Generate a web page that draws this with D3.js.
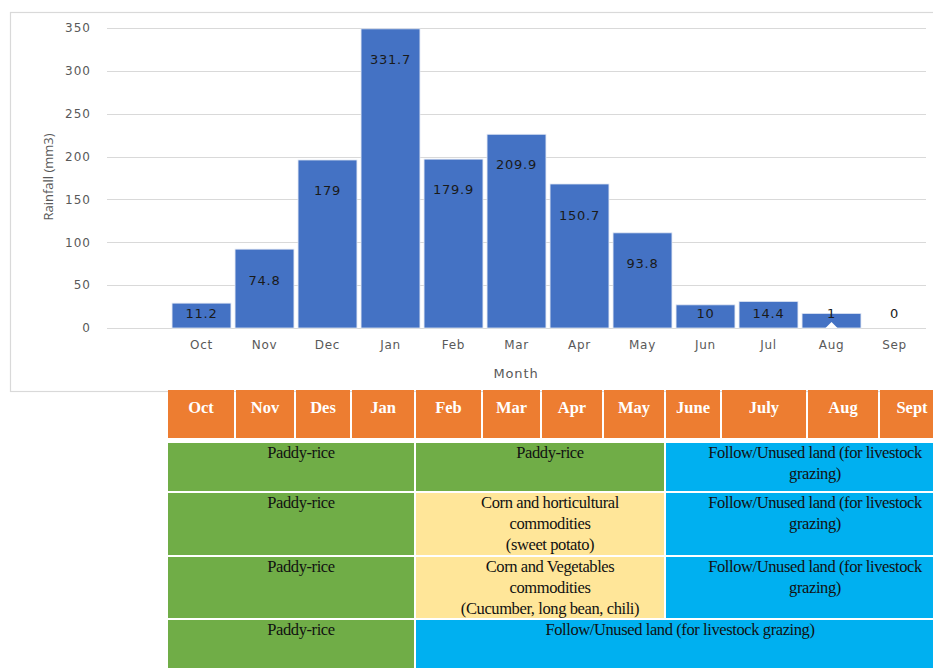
<!DOCTYPE html>
<html>
<head>
<meta charset="utf-8">
<script src="https://cdn.jsdelivr.net/npm/d3@7"></script>
<style>
  body { margin: 0; background: #fff; }
  svg { display: block; }
</style>
</head>
<body>
<script>
// chart values
var months = ["Oct", "Nov", "Dec", "Jan", "Feb", "Mar", "Apr", "May", "Jun", "Jul", "Aug", "Sep"];
var barValues = [29, 92, 196, 349, 197, 226, 168, 111, 27, 31, 17, 0];
var labelValues = [11.2, 74.8, 179, 331.7, 179.9, 209.9, 150.7, 93.8, 10, 14.4, 1, 0];
var yTicks = [0, 50, 100, 150, 200, 250, 300, 350];

// cropping calendar table
var tableHeaders = ["Oct", "Nov", "Des", "Jan", "Feb", "Mar", "Apr", "May", "June", "July", "Aug", "Sept"];
var tableRows = [
  [ {from: 0, to: 4, kind: "rice", lines: ["Paddy-rice"]},
    {from: 4, to: 8, kind: "rice", lines: ["Paddy-rice"]},
    {from: 8, to: 12, kind: "fallow", lines: ["Follow/Unused land (for livestock", "grazing)"]} ],
  [ {from: 0, to: 4, kind: "rice", lines: ["Paddy-rice"]},
    {from: 4, to: 8, kind: "crop", lines: ["Corn and horticultural", "commodities", "(sweet potato)"]},
    {from: 8, to: 12, kind: "fallow", lines: ["Follow/Unused land (for livestock", "grazing)"]} ],
  [ {from: 0, to: 4, kind: "rice", lines: ["Paddy-rice"]},
    {from: 4, to: 8, kind: "crop", lines: ["Corn and Vegetables", "commodities", "(Cucumber, long bean, chili)"]},
    {from: 8, to: 12, kind: "fallow", lines: ["Follow/Unused land (for livestock", "grazing)"]} ],
  [ {from: 0, to: 4, kind: "rice", lines: ["Paddy-rice"]},
    {from: 4, to: 12, kind: "fallow", lines: ["Follow/Unused land (for livestock grazing)"]} ]
];

// layout
var W = 933, H = 668;
var colEdges = [167, 235, 295, 351, 415, 482, 541, 603, 665, 721, 807, 879, 945];
var rowEdges = [[443, 491], [493, 555], [557, 618], [620, 680]];
var cellFill = {rice: "#70AD47", crop: "#FFE699", fallow: "#00B0F0"};

// text sits a little right of centre in the 4-month cells
function textDx(d) { return (d.to - d.from) > 4 ? 0 : 10; }

var svg = d3.select("body").append("svg").attr("width", W).attr("height", H);

// chart frame
svg.append("rect")
  .attr("x", 10.5).attr("y", 12.5)
  .attr("width", 940).attr("height", 379)
  .attr("fill", "#fff").attr("stroke", "#d9d9d9").attr("stroke-width", 1.2);

var x = d3.scaleBand()
  .domain([""].concat(months))
  .range([107, 926])
  .paddingInner(0.065)
  .paddingOuter(0.0325);

var y = d3.scaleLinear().domain([0, 350]).range([328, 28]);

// gridlines
svg.append("g").selectAll("line")
  .data(yTicks)
  .enter().append("line")
  .attr("x1", 107).attr("x2", 926)
  .attr("y1", function(d) { return Math.round(y(d)) + 0.5; })
  .attr("y2", function(d) { return Math.round(y(d)) + 0.5; })
  .attr("stroke", "#d9d9d9").attr("stroke-width", 1.2);

// y tick labels
svg.append("g").selectAll("text")
  .data(yTicks)
  .enter().append("text")
  .attr("x", 91)
  .attr("y", function(d) { return y(d); })
  .attr("dy", "0.36em")
  .attr("text-anchor", "end")
  .attr("font-family", "DejaVu Sans, sans-serif")
  .attr("font-size", 12)
  .attr("letter-spacing", 1)
  .attr("fill", "#595959")
  .text(function(d) { return d; });

// bars
svg.append("g").selectAll("rect")
  .data(months)
  .enter().append("rect")
  .attr("x", function(d) { return x(d); })
  .attr("width", x.bandwidth())
  .attr("y", function(d, i) { return y(barValues[i]); })
  .attr("height", function(d, i) { return y(0) - y(barValues[i]); })
  .attr("fill", "#4472C4")
  .attr("stroke", "#dfe6f3").attr("stroke-width", 0.8);

// little label pointer notch on the Aug bar
var augX = x("Aug") + x.bandwidth() / 2;
svg.append("path")
  .attr("d", "M" + (augX - 6) + "," + y(0) + "L" + augX + "," + (y(0) - 6) + "L" + (augX + 6) + "," + y(0) + "Z")
  .attr("fill", "#fff");

// data labels
svg.append("g").selectAll("text")
  .data(months)
  .enter().append("text")
  .attr("x", function(d) { return x(d) + x.bandwidth() / 2; })
  .attr("y", function(d, i) { return Math.min(y(labelValues[i]) + 16, y(0) - 15); })
  .attr("dy", "0.36em")
  .attr("text-anchor", "middle")
  .attr("font-family", "DejaVu Sans, sans-serif")
  .attr("font-size", 13)
  .attr("letter-spacing", 0.8)
  .attr("fill", "#1a1a1a")
  .text(function(d, i) { return labelValues[i]; });

// x axis labels
svg.append("g").selectAll("text")
  .data(months)
  .enter().append("text")
  .attr("x", function(d) { return x(d) + x.bandwidth() / 2; })
  .attr("y", 345)
  .attr("dy", "0.36em")
  .attr("text-anchor", "middle")
  .attr("font-family", "DejaVu Sans, sans-serif")
  .attr("font-size", 12)
  .attr("letter-spacing", 0.7)
  .attr("fill", "#595959")
  .text(function(d) { return d; });

// axis titles
svg.append("text")
  .attr("x", 516).attr("y", 373).attr("dy", "0.36em")
  .attr("text-anchor", "middle")
  .attr("font-family", "DejaVu Sans, sans-serif")
  .attr("font-size", 13)
  .attr("letter-spacing", 0.9)
  .attr("fill", "#595959")
  .text("Month");

svg.append("text")
  .attr("transform", "translate(48,177) rotate(-90)")
  .attr("dy", "0.36em")
  .attr("text-anchor", "middle")
  .attr("font-family", "Open Sans, sans-serif")
  .attr("font-size", 13)
  .attr("fill", "#595959")
  .text("Rainfall (mm3)");

//////////// TABLE ////////////

var table = svg.append("g");

// header row
var head = table.selectAll(".head")
  .data(tableHeaders)
  .enter().append("g").attr("class", "head");

head.append("rect")
  .attr("x", function(d, i) { return colEdges[i] + 1; })
  .attr("y", 390)
  .attr("width", function(d, i) { return colEdges[i + 1] - colEdges[i] - 2; })
  .attr("height", 48)
  .attr("fill", "#ED7D31");

head.append("text")
  .attr("x", function(d, i) { return (colEdges[i] + colEdges[i + 1]) / 2; })
  .attr("y", 413)
  .attr("text-anchor", "middle")
  .attr("font-family", "Liberation Serif, serif")
  .attr("font-weight", "bold")
  .attr("font-size", 16.5)
  .attr("fill", "#fff")
  .text(function(d) { return d; });

// body rows
tableRows.forEach(function(row, r) {
  var top = rowEdges[r][0], bottom = rowEdges[r][1];
  var cells = table.append("g").selectAll("g")
    .data(row)
    .enter().append("g");

  cells.append("rect")
    .attr("x", function(d) { return colEdges[d.from] + 1; })
    .attr("y", top)
    .attr("width", function(d) { return colEdges[d.to] - colEdges[d.from] - 2; })
    .attr("height", bottom - top)
    .attr("fill", function(d) { return cellFill[d.kind]; });

  cells.each(function(d) {
    var cx = (colEdges[d.from] + colEdges[d.to]) / 2 + textDx(d);
    d3.select(this).selectAll("text")
      .data(d.lines)
      .enter().append("text")
      .attr("x", cx)
      .attr("y", function(t, k) { return top + 15 + k * 21; })
      .attr("text-anchor", "middle")
      .attr("font-family", "Liberation Serif, serif")
      .attr("font-size", 16.5)
      .attr("letter-spacing", -0.4)
      .attr("fill", "#111")
      .text(function(t) { return t; });
  });
});
</script>
</body>
</html>
